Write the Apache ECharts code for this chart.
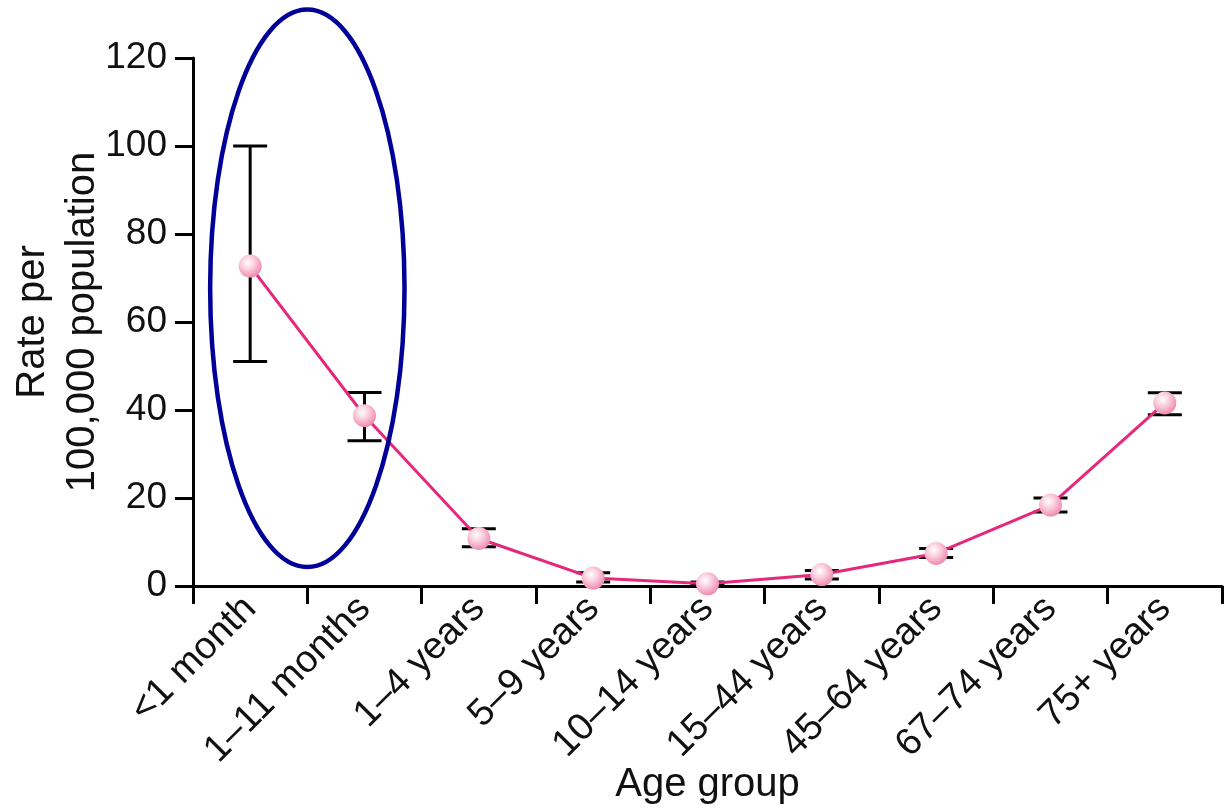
<!DOCTYPE html>
<html>
<head>
<meta charset="utf-8">
<script src="https://cdn.jsdelivr.net/npm/echarts@6/dist/echarts.min.js"></script>
<style>html,body{margin:0;padding:0;background:#fff}#c{width:1228px;height:808px}</style>
</head>
<body>
<div id="c"></div>
<script>
const categories = ['<1 month', '1–11 months', '1–4 years', '5–9 years', '10–14 years', '15–44 years', '45–64 years', '67–74 years', '75+ years'];
const rates = [72.7, 38.7, 10.8, 1.8, 0.5, 2.6, 7.4, 18.4, 41.6];
const lowerCI = [51, 33, 8.9, 0.9, 0.2, 1.6, 6.5, 16.8, 38.9];
const upperCI = [100, 44, 13, 3.0, 0.9, 3.5, 8.5, 20, 43.9];
const yTicks = [0, 20, 40, 60, 80, 100, 120];
// highlight annotation: spans categories 0..1 (centre at 0.5), values 4.3..131
const highlightCats = [0, 1];
const highlightValues = [4.3, 131];

const FONT = 'Liberation Sans, Arial, sans-serif';
const chart = echarts.init(document.getElementById('c'));

const errData = categories.map((c, i) => [i, lowerCI[i], upperCI[i]]);

chart.setOption({
  animation: false,
  grid: { left: 193, right: 6, top: 58, bottom: 222, containLabel: false, outerBoundsMode: 'none' },
  xAxis: {
    type: 'category',
    data: categories,
    boundaryGap: true,
    axisLine: { lineStyle: { color: '#000', width: 3 } },
    axisTick: { show: true, length: 18, lineStyle: { color: '#000', width: 3 } },
    axisLabel: { rotate: 45, fontSize: 38, color: '#111', fontFamily: FONT, margin: 17 },
    name: 'Age group',
    nameLocation: 'middle',
    nameMoveOverlap: false,
    nameGap: 179,
    nameTextStyle: { fontSize: 40, color: '#111', fontFamily: FONT }
  },
  yAxis: {
    type: 'value',
    min: yTicks[0],
    max: yTicks[yTicks.length - 1],
    interval: 20,
    splitLine: { show: false },
    axisLine: { show: true, lineStyle: { color: '#000', width: 3 } },
    axisTick: { show: true, length: 18, lineStyle: { color: '#000', width: 3 } },
    axisLabel: { fontSize: 37, color: '#111', fontFamily: FONT, margin: 26 },
    name: 'Rate per\n100,000 population',
    nameLocation: 'middle',
    nameMoveOverlap: false,
    nameRotate: 90,
    nameGap: 85,
    nameTextStyle: { fontSize: 40, lineHeight: 50, color: '#111', fontFamily: FONT }
  },
  series: [
    {
      type: 'custom',
      data: errData,
      z: 2,
      renderItem: function (params, api) {
        const x = api.coord([api.value(0), api.value(1)])[0];
        const lo = api.coord([api.value(0), api.value(1)])[1];
        const hi = api.coord([api.value(0), api.value(2)])[1];
        const hw = 17;
        const st = { stroke: '#000', lineWidth: 3 };
        return {
          type: 'group',
          children: [
            { type: 'line', shape: { x1: x, y1: lo, x2: x, y2: hi }, style: st },
            { type: 'line', shape: { x1: x - hw, y1: lo, x2: x + hw, y2: lo }, style: st },
            { type: 'line', shape: { x1: x - hw, y1: hi, x2: x + hw, y2: hi }, style: st }
          ]
        };
      }
    },
    {
      type: 'line',
      data: rates,
      z: 3,
      symbol: 'circle',
      symbolSize: 23,
      lineStyle: { color: '#e6287a', width: 3 },
      itemStyle: {
        color: {
          type: 'radial', x: 0.4, y: 0.35, r: 0.7,
          colorStops: [
            { offset: 0, color: '#ffffff' },
            { offset: 0.4, color: '#fbd0df' },
            { offset: 1, color: '#ee82aa' }
          ]
        },
        borderWidth: 0
      }
    }
  ]
});

// annotation ellipse positioned through the chart's own scales
const p0 = chart.convertToPixel({ xAxisIndex: 0, yAxisIndex: 0 }, [highlightCats[0], highlightValues[0]]);
const p1 = chart.convertToPixel({ xAxisIndex: 0, yAxisIndex: 0 }, [highlightCats[1], highlightValues[1]]);
const step = p1[0] - p0[0];
chart.setOption({
  graphic: [{
    type: 'ellipse',
    shape: { cx: (p0[0] + p1[0]) / 2, cy: (p0[1] + p1[1]) / 2, rx: step * 0.85, ry: Math.abs(p0[1] - p1[1]) / 2 },
    style: { fill: 'none', stroke: '#000099', lineWidth: 4.5 },
    z: 10
  }]
});
</script>
</body>
</html>
